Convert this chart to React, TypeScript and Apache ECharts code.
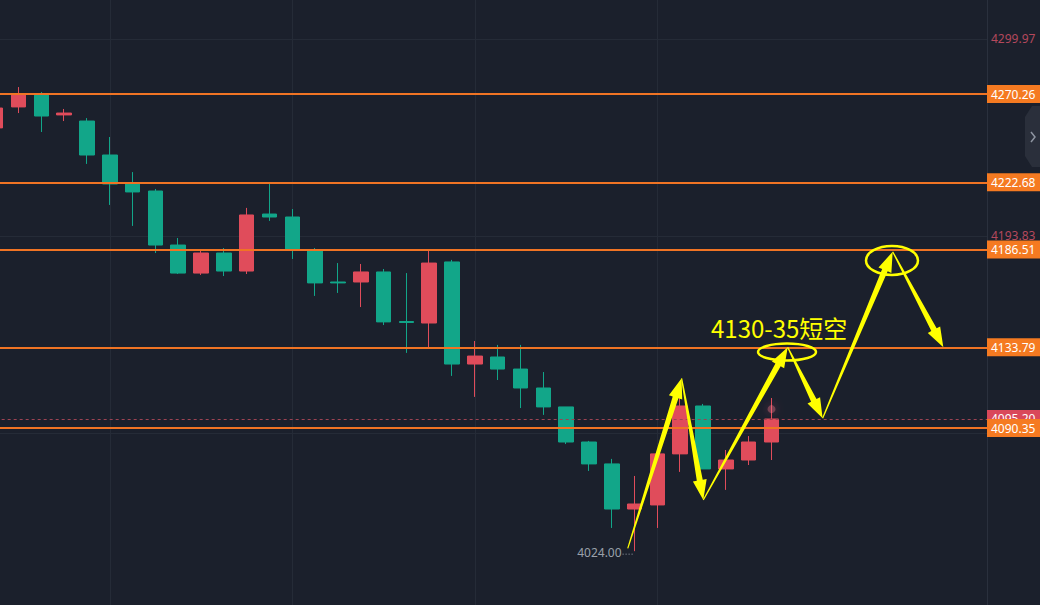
import React, { useEffect, useRef } from "react";
import * as echarts from "echarts";

// ---- data ----
const categories = Array.from({ length: 45 }, (_, i) => `K${i + 1}`);
const opens = [4252.0, 4263.3, 4269.7, 4259.0, 4255.7, 4237.4, 4221.8, 4218.0, 4188.9, 4173.8, 4184.6, 4174.9, 4205.6, 4204.0, 4186.2, 4169.0, 4169.0, 4174.4, 4147.7, 4146.9, 4179.8, 4124.8, 4128.6, 4122.1, 4111.9, 4101.7, 4082.8, 4071.0, 4046.7, 4048.9, 4076.4, 4102.2, 4068.3, 4073.1, 4082.8];
const closes = [4262.7, 4269.7, 4258.4, 4260.0, 4237.4, 4221.8, 4217.5, 4188.9, 4173.8, 4184.6, 4174.9, 4205.1, 4204.0, 4186.8, 4168.5, 4168.5, 4174.4, 4147.5, 4147.2, 4179.2, 4124.8, 4129.1, 4122.1, 4111.9, 4101.7, 4082.8, 4071.0, 4046.7, 4049.4, 4076.4, 4102.2, 4068.3, 4073.1, 4082.8, 4095.2];
const lows = [4248.0, 4260.0, 4249.8, 4255.7, 4232.6, 4210.5, 4199.2, 4184.6, 4173.3, 4172.8, 4172.2, 4173.3, 4201.9, 4181.4, 4161.5, 4163.1, 4155.5, 4145.8, 4130.8, 4133.4, 4118.4, 4107.1, 4116.2, 4101.1, 4097.4, 4081.7, 4067.2, 4036.5, 4024.0, 4036.5, 4066.7, 4068.3, 4057.0, 4070.4, 4073.1];
const highs = [4266.0, 4274.0, 4271.3, 4262.2, 4257.3, 4247.1, 4228.2, 4219.1, 4192.7, 4186.2, 4187.3, 4208.9, 4221.8, 4208.3, 4187.3, 4179.2, 4178.7, 4176.0, 4173.8, 4186.2, 4180.9, 4137.2, 4135.1, 4135.1, 4120.5, 4101.7, 4083.4, 4073.7, 4064.5, 4077.0, 4108.1, 4103.3, 4078.5, 4086.0, 4106.5];
const levelLines = [4270.26, 4222.68, 4186.51, 4133.79, 4090.35];
const axisTickValues = [4299.97, 4193.83, 4087.69];
const lastPrice = 4095.2;
const lowMarkIndex = 28;
const lowMarkValue = 4024.0;
const verticalGridIndices = [5, 13, 21, 29];
// annotation path (category index, price)
const arrowPath = [
  [27.7, 4025.5],
  [30.06, 4117.1],
  [31.01, 4051.6],
  [34.71, 4133.8],
  [36.24, 4095.6],
  [39.31, 4185.3],
  [41.53, 4133.8],
];
const ellipseCenters = [
  [34.68, 4131.3],
  [39.28, 4180.6],
];
const noteText = "4130-35短空";
const noteAnchor = [31.35, 4144.75];

// ---- styles ----
const BG = "#1b202c";
const RED = "#e04c5b";
const GREEN = "#12a689";
const ORANGE_LINE = "#f07424";
const ORANGE_BOX = "#f57a21";
const YELLOW = "#ffff00";
const GRIDC = "#252b37";
const OX = 20; // chart div is shifted left by OX px

function arrowPoly(t: number[], h: number[]) {
  const dx = h[0] - t[0];
  const dy = h[1] - t[1];
  const len = Math.hypot(dx, dy);
  const ux = dx / len;
  const uy = dy / len;
  const nx = -uy;
  const ny = ux;
  const HL = 20, HW = 7, SW = 3, TW = 0.6;
  const bx = h[0] - ux * HL;
  const by = h[1] - uy * HL;
  return [
    [t[0] + nx * TW, t[1] + ny * TW],
    [bx + nx * SW, by + ny * SW],
    [bx + nx * HW, by + ny * HW],
    [h[0], h[1]],
    [bx - nx * HW, by - ny * HW],
    [bx - nx * SW, by - ny * SW],
    [t[0] - nx * TW, t[1] - ny * TW],
  ];
}

export default function App() {
  const ref = useRef<HTMLDivElement>(null);
  useEffect(() => {
    if (!ref.current) return;
    const chart = echarts.init(ref.current, null, { renderer: "svg" });
    const ohlc = opens.map((o, i) => [o, closes[i], lows[i], highs[i]]);
    const option: any = {
      animation: false,
      backgroundColor: BG,
      grid: { left: OX - 4.32, right: 40.3, top: 0, bottom: 0 },
      xAxis: {
        type: "category",
        data: categories,
        boundaryGap: false,
        axisLine: { show: false },
        axisTick: { show: false },
        axisLabel: { show: false },
        splitLine: {
          show: true,
          interval: (i: number) => verticalGridIndices.includes(i),
          lineStyle: { color: GRIDC, width: 1 },
        },
      },
      yAxis: {
        type: "value",
        min: 3995.0,
        max: 4320.9,
        position: "right",
        axisLine: { show: false },
        axisTick: { show: false },
        axisLabel: { show: false },
        splitLine: { show: false },
      },
      series: [
        {
          type: "line",
          data: [],
          silent: true,
          z: 1,
          markLine: {
            z: 1,
            silent: true,
            symbol: ["none", "none"],
            label: { show: false },
            lineStyle: { color: GRIDC, width: 1, type: "solid" },
            data: axisTickValues.map((v) => ({ yAxis: v })),
          },
        },
        {
          type: "candlestick",
          data: ohlc,
          barWidth: 15,
          z: 2,
          clip: false,
          itemStyle: {
            color: RED,
            color0: GREEN,
            borderColor: RED,
            borderColor0: GREEN,
            borderWidth: 1,
          },
        },
        {
          type: "line",
          data: [],
          silent: true,
          z: 3,
          markLine: {
            z: 3,
            silent: true,
            symbol: ["none", "none"],
            label: { show: false },
            lineStyle: { color: "#9c4353", width: 1, type: [3, 3] },
            data: [{ yAxis: lastPrice }],
          },
        },
        {
          type: "line",
          data: [],
          silent: true,
          z: 4,
          markLine: {
            z: 4,
            silent: true,
            symbol: ["none", "none"],
            label: { show: false },
            lineStyle: { color: ORANGE_LINE, width: 2, type: "solid" },
            data: levelLines.map((v) => ({ yAxis: v })),
          },
        },
      ],
    };
    chart.setOption(option);

    const px = (i: number, v: number) => {
      const a = chart.convertToPixel({ gridIndex: 0 }, [0, v]) as number[];
      const b = chart.convertToPixel({ gridIndex: 0 }, [1, v]) as number[];
      return [a[0] + (b[0] - a[0]) * i, a[1]];
    };

    const AX = 987 + OX;
    const g: any[] = [];
    // axis area cover
    g.push({ type: "rect", z: 50, silent: true, shape: { x: AX, y: 0, width: 80, height: 605 }, style: { fill: BG } });
    g.push({ type: "line", z: 51, silent: true, shape: { x1: AX + 0.5, y1: 0, x2: AX + 0.5, y2: 605 }, style: { stroke: "#2a303d", lineWidth: 1 } });
    // axis tick labels
    axisTickValues.forEach((v, k) => {
      const y = px(0, v)[1];
      g.push({
        type: "text", z: 52, silent: true, x: AX + 4, y: y,
        style: { text: v.toFixed(2), fill: k < 2 ? "#b4485c" : "#aab0ba", font: "12px 'Noto Sans', sans-serif", verticalAlign: "middle", align: "left" },
      });
    });
    // last price box
    {
      const y = px(0, lastPrice)[1];
      g.push({ type: "rect", z: 53, silent: true, shape: { x: AX, y: y - 9, width: 53, height: 18 }, style: { fill: "#d9485a" } });
      g.push({ type: "text", z: 54, silent: true, x: AX + 4, y: y, style: { text: lastPrice.toFixed(2), fill: "#ffffff", font: "12px 'Noto Sans', sans-serif", verticalAlign: "middle" } });
    }
    // level boxes
    levelLines.forEach((v) => {
      const y = px(0, v)[1];
      g.push({ type: "rect", z: 55, silent: true, shape: { x: AX, y: y - 9, width: 53, height: 18 }, style: { fill: ORANGE_BOX } });
      g.push({ type: "text", z: 56, silent: true, x: AX + 4, y: y + 0.5, style: { text: v.toFixed(2), fill: "#ffffff", font: "12px 'Noto Sans', sans-serif", verticalAlign: "middle" } });
    });
    // side chevron panel
    g.push({
      type: "polygon", z: 57, silent: true,
      shape: { points: [[1040 + OX, 106], [1032 + OX, 106], [1025 + OX, 117], [1025 + OX, 156], [1032 + OX, 167], [1040 + OX, 167]] },
      style: { fill: "#2a2f3b" },
    });
    g.push({
      type: "polyline", z: 58, silent: true,
      shape: { points: [[1031 + OX, 132], [1035 + OX, 137], [1031 + OX, 142]] },
      style: { stroke: "#8e95a1", lineWidth: 1.5, fill: "none" },
    });
    // low marker
    {
      const p = px(lowMarkIndex, lowMarkValue);
      g.push({ type: "text", z: 52, silent: true, x: p[0] - 13, y: p[1] + 1, style: { text: lowMarkValue.toFixed(2), fill: "#9aa0aa", font: "12px 'Noto Sans', sans-serif", align: "right", verticalAlign: "middle" } });
      g.push({ type: "line", z: 52, silent: true, shape: { x1: p[0] - 12, y1: p[1] + 3, x2: p[0] - 2, y2: p[1] + 3 }, style: { stroke: "#9aa0aa", lineWidth: 1, lineDash: [1, 2] } });
    }
    // last candle glow
    {
      const p = px(34, highs[34] - 6);
      g.push({ type: "circle", z: 20, silent: true, shape: { cx: p[0], cy: p[1], r: 4 }, style: { fill: "rgba(255,120,140,0.35)", shadowBlur: 8, shadowColor: "rgba(255,90,120,0.8)" } });
    }
    // arrows
    for (let k = 0; k + 1 < arrowPath.length; k++) {
      const t = px(arrowPath[k][0], arrowPath[k][1]);
      const h = px(arrowPath[k + 1][0], arrowPath[k + 1][1]);
      g.push({ type: "polygon", z: 60, silent: true, shape: { points: arrowPoly(t, h) }, style: { fill: YELLOW } });
    }
    // ellipses
    const radii = [[29, 8.5], [26, 14.5]];
    ellipseCenters.forEach((c, k) => {
      const p = px(c[0], c[1]);
      g.push({ type: "ellipse", z: 61, silent: true, shape: { cx: p[0], cy: p[1], rx: radii[k][0], ry: radii[k][1] }, style: { fill: "none", stroke: YELLOW, lineWidth: 2.5 } });
    });
    // note text
    {
      const p = px(noteAnchor[0], noteAnchor[1]);
      g.push({ type: "text", z: 62, silent: true, x: p[0], y: p[1], style: { text: noteText, fill: YELLOW, font: "24px 'Noto Sans CJK SC', sans-serif", align: "left", verticalAlign: "middle" } });
    }
    chart.setOption({ graphic: { elements: g } });

    return () => chart.dispose();
  }, []);
  return (
    <div style={{ position: "fixed", left: 0, top: 0, width: 1040, height: 605, background: BG, overflow: "hidden" }}>
      <div ref={ref} style={{ position: "absolute", left: -OX, top: 0, width: 1040 + OX, height: 605 }} />
    </div>
  );
}
